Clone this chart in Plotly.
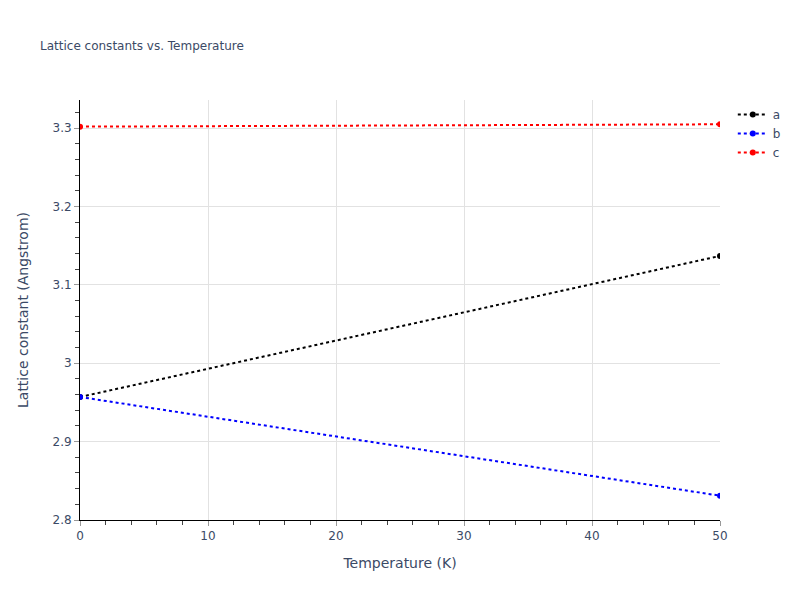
import plotly.graph_objects as go

temperature = [0, 50]
a_vals = [2.957, 3.137]
b_vals = [2.957, 2.831]
c_vals = [3.302, 3.305]

series = [("a", a_vals, "black"), ("b", b_vals, "blue"), ("c", c_vals, "red")]

fig = go.Figure()
for name, vals, col in series:
    fig.add_trace(go.Scatter(x=temperature, y=vals, mode="lines+markers", name=name,
                             line=dict(color=col, dash="dot", width=2),
                             marker=dict(color=col, size=6)))

axis_common = dict(showline=True, linecolor="black", linewidth=1, ticks="outside",
                   tickcolor="#999", ticklen=5, showgrid=True, gridcolor="#e2e2e2",
                   gridwidth=1, zeroline=False, mirror=False,
                   tickfont=dict(size=12), title_font=dict(size=14))

fig.update_layout(
    template="plotly_white",
    width=800, height=600,
    font=dict(family="Verdana, DejaVu Sans, sans-serif", color="#3b4a66"),
    title=dict(text="Lattice constants vs. Temperature", font=dict(size=12)),
    margin=dict(l=80, r=80, t=100, b=80),
    plot_bgcolor="white", paper_bgcolor="white",
    legend=dict(font=dict(size=12)),
    xaxis=dict(title="Temperature (K)", range=[0, 50], dtick=10,
               minor=dict(ticks="outside", dtick=2, ticklen=4, tickcolor="#444", showgrid=False),
               **axis_common),
    yaxis=dict(title=dict(text="Lattice constant (Angstrom)", standoff=20),
               range=[2.8, 3.336], dtick=0.1,
               minor=dict(ticks="outside", dtick=0.02, ticklen=4, tickcolor="#444", showgrid=False),
               **axis_common),
)

fig.write_html("out.html", config={"displayModeBar": False},
               post_script="document.body.style.margin='0';")
